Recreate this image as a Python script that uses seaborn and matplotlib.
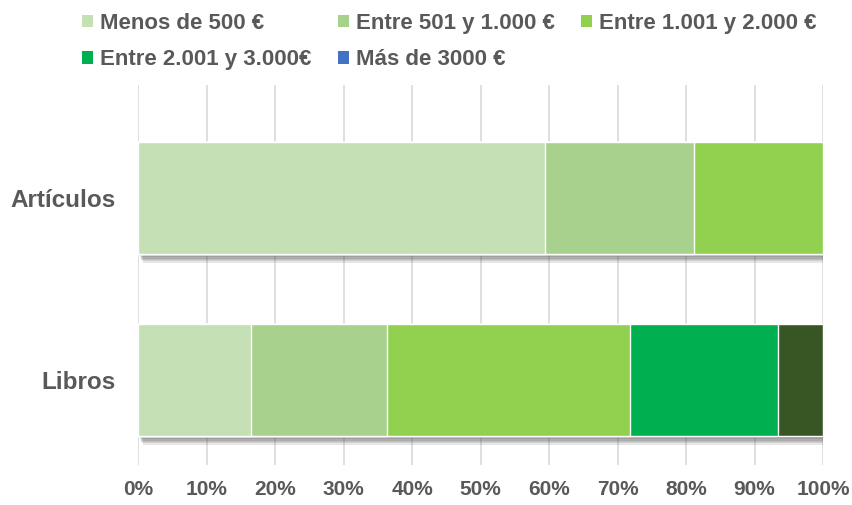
import pandas as pd
import matplotlib.pyplot as plt
import matplotlib.patheffects as pe
from matplotlib.patches import Patch
import seaborn as sns

# Data (percent of each publication type by price range)
categories = ['Artículos', 'Libros']
ranges = ['Menos de 500 €', 'Entre 501 y 1.000 €', 'Entre 1.001 y 2.000 €',
          'Entre 2.001 y 3.000€', 'Más de 3000 €']
articulos = [59.4, 21.8, 18.8, 0.0, 0.0]
libros = [16.5, 19.9, 35.4, 21.6, 6.6]

bar_colors = ['#C5E0B4', '#A9D18E', '#92D050', '#00B050', '#375623']
legend_colors = ['#C5E0B4', '#A9D18E', '#92D050', '#00B050', '#4472C4']

df = pd.DataFrame({'Artículos': articulos, 'Libros': libros}, index=ranges).T
cum = df.cumsum(axis=1)

sns.set_style('white')
plt.rcParams['font.family'] = ['Liberation Sans', 'DejaVu Sans']

fig = plt.figure(figsize=(8.52, 5.05), dpi=100)
ax = fig.add_axes([138 / 852, 40 / 505, 685 / 852, 380 / 505])

# Draw cumulative bars from the longest to the shortest so they stack
for i in reversed(range(len(ranges))):
    plot_df = pd.DataFrame({'cat': categories, 'val': cum[ranges[i]].values})
    sns.barplot(data=plot_df, x='val', y='cat', color=bar_colors[i], orient='h',
                width=0.62, saturation=1, ax=ax, zorder=3)

# Soft shadow only on the full-length bars (drawn first)
shadow = [pe.SimplePatchShadow(offset=(0.6 * k, -k), shadow_rgbFace='#505050', alpha=0.14)
          for k in range(1, 7)]
for p in ax.patches[:len(categories)]:
    p.set_path_effects(shadow + [pe.Normal()])

ax.set_xlim(0, 100)
ax.set_ylim(1.467, -0.621)
ax.set_xticks(range(0, 101, 10))
ax.set_xticklabels([f'{v}%' for v in range(0, 101, 10)])
ax.grid(axis='x', color='#D9D9D9', linewidth=1.2, zorder=0)
ax.set_axisbelow(True)
for s in ax.spines.values():
    s.set_visible(False)
ax.set_xlabel('')
ax.set_ylabel('')
ax.tick_params(axis='both', length=0, labelcolor='#595959')
ax.tick_params(axis='x', pad=11, labelsize=15)
ax.tick_params(axis='y', pad=16, labelsize=17.5)
for lbl in ax.get_xticklabels() + ax.get_yticklabels():
    lbl.set_fontweight('bold')

# Legend filled row by row (matplotlib fills columns first)
order = [0, 3, 1, 4, 2]
handles = [Patch(facecolor=legend_colors[i], edgecolor='none') for i in order]
labels = [ranges[i] for i in order]
fig.legend(handles, labels, ncol=3, loc='upper left', bbox_to_anchor=(62 / 852, 1.014),
           frameon=False, handlelength=0.5, handleheight=0.5, handletextpad=0.3,
           columnspacing=1.2, labelspacing=0.7,
           prop={'size': 16, 'weight': 'bold'}, labelcolor='#595959')

fig.savefig('out.png', dpi=100)
